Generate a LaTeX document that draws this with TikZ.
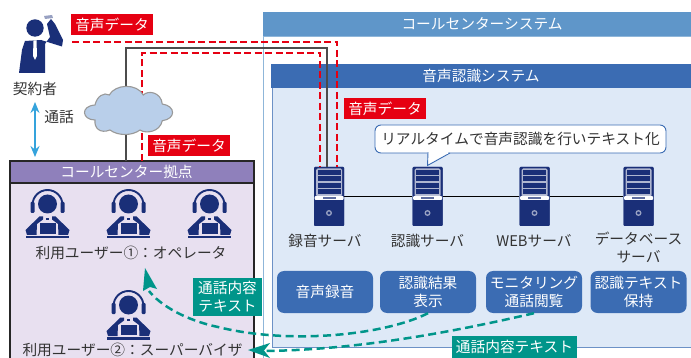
\documentclass[tikz,border=0pt]{standalone}
\usepackage{fontspec}
\setmainfont{Noto Sans CJK JP}
\usetikzlibrary{arrows.meta,calc}
\definecolor{navy}{HTML}{1A2F78}
\definecolor{outerhead}{HTML}{5F96C9}
\definecolor{innerhead}{HTML}{3B6CB3}
\definecolor{innerbody}{HTML}{DEE9F7}
\definecolor{purplehead}{HTML}{8F80BB}
\definecolor{purplebody}{HTML}{E8E0F0}
\definecolor{redlab}{HTML}{E60012}
\definecolor{tealc}{HTML}{00958A}
\definecolor{txt}{HTML}{333333}
\definecolor{skyarrow}{HTML}{35A3DC}
\definecolor{cloudc}{HTML}{B9CFEA}
\tikzset{
  x=1pt,y=-1pt,
  base/.style={font=\fontsize{14.7}{18}\selectfont,inner sep=0pt,align=center},
  plain/.style={base,text=txt},
  headtext/.style={base,text=white},
  redlabel/.style={base,text=white,fill=redlab,minimum width=82,minimum height=21},
  teallabel/.style={base,text=white,fill=tealc},
  funcbox/.style={base,text=white,fill=innerhead,rounded corners=7,minimum width=96,minimum height=42},
  serverbox/.style={fill=navy,rounded corners=1,minimum width=30,minimum height=59,inner sep=0pt},
  reddash/.style={redlab,line width=2.7,dash pattern=on 7 off 3.5},
  tealdash/.style={tealc,line width=2.5,dash pattern=on 8 off 4.5},
  serverdetail/.pic={
    \fill[white!65!navy,rounded corners=1.5] (-13,-28) rectangle (13,0);
    \foreach \yy in {-26.5,-20,-13.5,-7}{\fill[navy] (-11.5,\yy) rectangle (11.5,\yy+5);}
    \fill[white,rounded corners=1] (-14.5,-0.5) rectangle (14.5,3.5);
    \fill[navy!70!white] (-6.5,0.5) rectangle (6.5,3);
    \draw[white!55!navy,line width=1.3] (0,16.5) circle (2.3);
  },
  agent/.pic={
    \draw[navy,line width=1.9] (-15,1) arc[start angle=180,end angle=360,radius=15];
    \fill[navy,rounded corners=1] (-17,-2) rectangle (-13,9);
    \fill[navy,rounded corners=1] (13,-2) rectangle (17,9);
    \fill[navy] (0,0) circle (9.5);
    \fill[navy] (-8,12.5) -- (-22,26) -- (-20.5,31) -- (-11,31) -- (-10.5,20) -- (-4.5,15.5) -- (-4.5,12.5) -- cycle;
    \fill[navy] (8,12.5) -- (22,26) -- (20.5,31) -- (11,31) -- (10.5,20) -- (4.5,15.5) -- (4.5,12.5) -- cycle;
    \fill[navy] (-8,19.5) rectangle (8,30);
    \fill[navy] (-21.5,32) rectangle (21.5,34.5);
    \fill[navy] (-1.2,14) rectangle (1.2,16);
  },
}
\begin{document}
\begin{tikzpicture}
\clip (0,0) rectangle (691,358);
% outer system
\fill[white] (0,0) rectangle (691,358);
\draw[outerhead!70!white,line width=0.8] (263.5,36) rectangle (700,370);
\fill[outerhead] (263,12) rectangle (691,36);
\node[headtext] (sys) at (482,24) {コールセンターシステム};
% inner system
\filldraw[fill=innerbody,draw=innerhead!75!white,line width=1] (272,88) rectangle (700,347);
\fill[innerhead] (271,64) rectangle (691,88);
\node[headtext] (asr) at (481,76) {音声認識システム};
% call center
\filldraw[fill=purplebody,draw=black!85,line width=1.2] (10,161) rectangle (254,370);
\filldraw[fill=purplehead,draw=black!85,line width=1.2] (10,161) rectangle (254,183);
\node[headtext] (cc) at (126.5,172) {コールセンター拠点};
% servers
\node[serverbox] (s1) at (329,196.5) {};
\node[serverbox] (s2) at (427.5,196.5) {};
\node[serverbox] (s3) at (534.5,196.5) {};
\node[serverbox] (s4) at (638.5,196.5) {};
\draw[black,line width=1.2] (s1) -- (s2);
\draw[black,line width=1.2] (s2) -- (s3);
\draw[black,line width=1.2] (s3) -- (s4);
\foreach \n in {s1,s2,s3,s4}{\node[serverbox] at (\n) {}; \pic at (\n) {serverdetail};}
% coordinates of lines
\coordinate (bkA) at (126,161);
\coordinate (bkB) at (126,48);
\coordinate (bkC) at (327,48);
\coordinate (bkD) at (327,167);
\coordinate (rA) at (72,42);
\coordinate (rB) at (337,42);
\coordinate (rC) at (337,167);
\coordinate (rD) at (142,161);
\coordinate (rE) at (142,53);
\coordinate (rF) at (320,53);
\coordinate (rG) at (320,167);
\draw[black!70,line width=1.6] (bkA) -- (bkB) -- (bkC) -- (bkD);
\draw[reddash] (rA) -- (rB) -- (rC);
\draw[reddash] (rD) -- (rE) -- (rF) -- (rG);
% cloud
\filldraw[fill=cloudc,draw=black!40,line width=1.1] (95,120)
  .. controls (82,120) and (80,106) .. (95,105)
  .. controls (97,96) and (104,92) .. (109.3,95)
  .. controls (115,84) and (137,83) .. (143.3,95)
  .. controls (148,90) and (161,92) .. (162.3,104)
  .. controls (176,106) and (176,119) .. (162.3,120.7)
  .. controls (160,132) and (146,134) .. (140,130)
  .. controls (132,136) and (118,136) .. (110,130)
  .. controls (100,134) and (94,128) .. (95,120) -- cycle;
% caller
\fill[navy] (25,41) -- (41,40) -- (62,46.5) -- (63,40) -- (55,24) -- (51,19) -- (47,24) -- (50,37) -- (45,44) -- (45,73) -- (19,73) -- (22,50) -- cycle;
\fill[white] (44,16) rectangle (47,38);
\fill[navy] (35,28) circle (8.7);
\fill[white] (33.5,40.5) -- (36.5,40.5) -- (37,56) -- (35,60) -- (33,56) -- cycle;
\fill[white!55!navy] (44,16) -- (52,15) -- (53,18) -- (45,19) -- cycle;
\node[plain] (caller) at (35,88.5) {契約者};
\node[plain] (talk) at (59,117.5) {通話};
\coordinate (arT) at (35,102);
\coordinate (arB) at (35,157);
\draw[skyarrow,line width=1.5,{Stealth[length=11,width=9]}-{Stealth[length=11,width=9]}] (arT) -- (arB);
% red labels
\node[redlabel] (r1) at (112,24.5) {音声データ};
\node[redlabel] (r2) at (189,145.5) {音声データ};
\node[redlabel] (r3) at (385,108.5) {音声データ};
% callout
\filldraw[fill=white,draw=innerhead,line width=0.9,rounded corners=6] (375,125) rectangle (666,153);
\filldraw[fill=white,draw=innerhead,line width=0.9] (428,152.5) -- (427.5,165.5) -- (450,153);
\fill[white] (428.6,151) rectangle (448,154);
\node[plain] (note) at (520.5,139) {リアルタイムで音声認識を行いテキスト化};
% server labels
\node[plain] (l1) at (325,241) {録音サーバ};
\node[plain] (l2) at (427.5,241) {認識サーバ};
\node[plain] (l3) at (534,241) {WEBサーバ};
\node[plain,anchor=north] (l4) at (638.5,232) {データベース\\サーバ};
% function boxes
\node[funcbox] (f1) at (325,292) {音声録音};
\node[funcbox] (f2) at (428,292) {認識結果\\表示};
\node[funcbox] (f3) at (534,292) {モニタリング\\通話閲覧};
\node[funcbox] (f4) at (638.5,292) {認識テキスト\\保持};
% agents
\pic at (47.5,204) {agent};
\pic at (128.5,204) {agent};
\pic at (209.5,204) {agent};
\pic at (128.5,305) {agent};
\node[plain] (u1) at (131,253) {利用ユーザー①：オペレータ};
\node[plain] (u2) at (132.5,350) {利用ユーザー②：スーパーバイザ};
% teal arrows
\draw[tealdash] (f2.south) .. controls (385,335) and (290,345) .. (218,327) .. controls (185,320) and (160,305) .. (149,291);
\fill[tealc] (145,268) -- (157,289) -- (150,287) -- (143,291) -- cycle;
\draw[tealdash] (f3.south) .. controls (440,335) and (350,350) .. (264,351);
\fill[tealc] (248,350) -- (270,343) -- (264,350.5) -- (270,358) -- cycle;
\node[teallabel,minimum width=69,minimum height=38] (t1) at (227.5,297) {通話内容\\テキスト};
\node[teallabel,minimum width=125,minimum height=22] (t2) at (514.5,347) {通話内容テキスト};
\end{tikzpicture}
\end{document}
